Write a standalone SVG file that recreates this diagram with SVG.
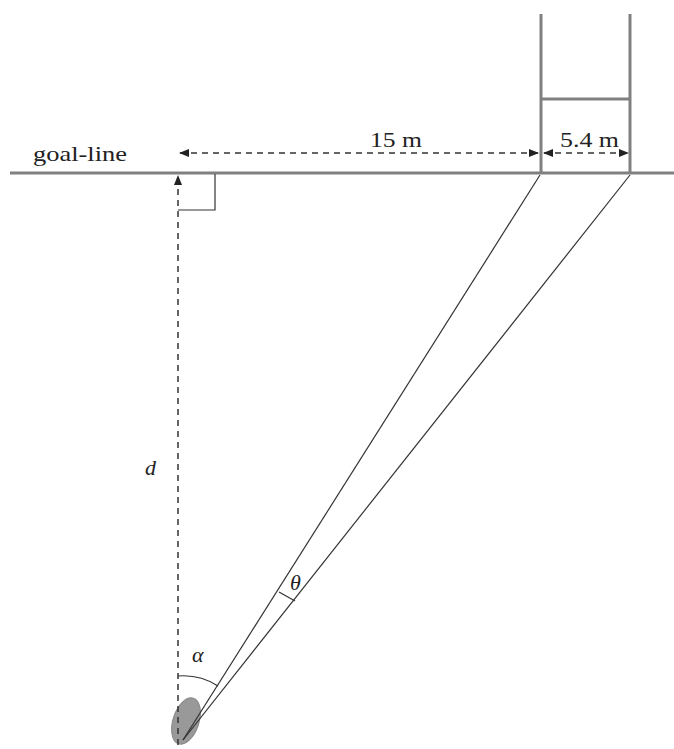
<svg xmlns="http://www.w3.org/2000/svg" width="674" height="749" viewBox="0 0 674 749">
<defs>
<style>
.post{stroke:#808080;stroke-width:3;fill:none}
.thin{stroke:#333;stroke-width:1.2;fill:none}
.dash{stroke:#333;stroke-width:1.5;stroke-dasharray:6,5;fill:none}
.lbl{font-family:'Liberation Serif','Times New Roman','DejaVu Serif',serif;font-size:21px;fill:#222}
.it{font-family:'Liberation Serif','Times New Roman','DejaVu Serif',serif;font-size:22px;font-style:italic;fill:#222}
</style>
<marker id="ah" markerWidth="10" markerHeight="8" refX="9" refY="4" orient="auto-start-reverse" markerUnits="userSpaceOnUse">
<path d="M0,0 L10,4 L0,8 Z" fill="#222"/>
</marker>
</defs>
<rect width="674" height="749" fill="#fff"/>
<g id="goal-line">
<line class="post" x1="10" y1="173" x2="674" y2="173"/>
<text class="lbl" x="33" y="161" textLength="94" lengthAdjust="spacingAndGlyphs">goal-line</text>
</g>
<g id="goal">
<line class="post" x1="541" y1="14" x2="541" y2="173"/>
<line class="post" x1="630" y1="14" x2="630" y2="173"/>
<line class="post" x1="541" y1="99" x2="630" y2="99"/>
</g>
<g id="ball">
<ellipse cx="186" cy="721" rx="13" ry="24" transform="rotate(18 186 721)" fill="#999" stroke="#888" stroke-width="1"/>
</g>
<g id="connectors">
<line class="dash" x1="180" y1="153" x2="538" y2="153" marker-start="url(#ah)" marker-end="url(#ah)"/>
<line class="dash" x1="544" y1="153" x2="628" y2="153" marker-start="url(#ah)" marker-end="url(#ah)"/>
<line class="dash" x1="178" y1="745" x2="178" y2="176" marker-end="url(#ah)"/>
<polyline class="thin" points="178,210 215,210 215,174"/>
<line class="thin" x1="183" y1="740" x2="540" y2="175"/>
<line class="thin" x1="183" y1="740" x2="630" y2="175"/>
<path class="thin" d="M178,676 A64,64 0 0 1 218,686"/>
<line class="thin" x1="279" y1="592" x2="295" y2="601"/>
</g>
<g id="labels">
<text class="lbl" x="370" y="147" textLength="52" lengthAdjust="spacingAndGlyphs">15 m</text>
<text class="lbl" x="560" y="147" textLength="59" lengthAdjust="spacingAndGlyphs">5.4 m</text>
<text class="it" x="145" y="475">d</text>
<text class="it" x="192" y="662">α</text>
<text class="it" x="290" y="590">θ</text>
</g>
</svg>
